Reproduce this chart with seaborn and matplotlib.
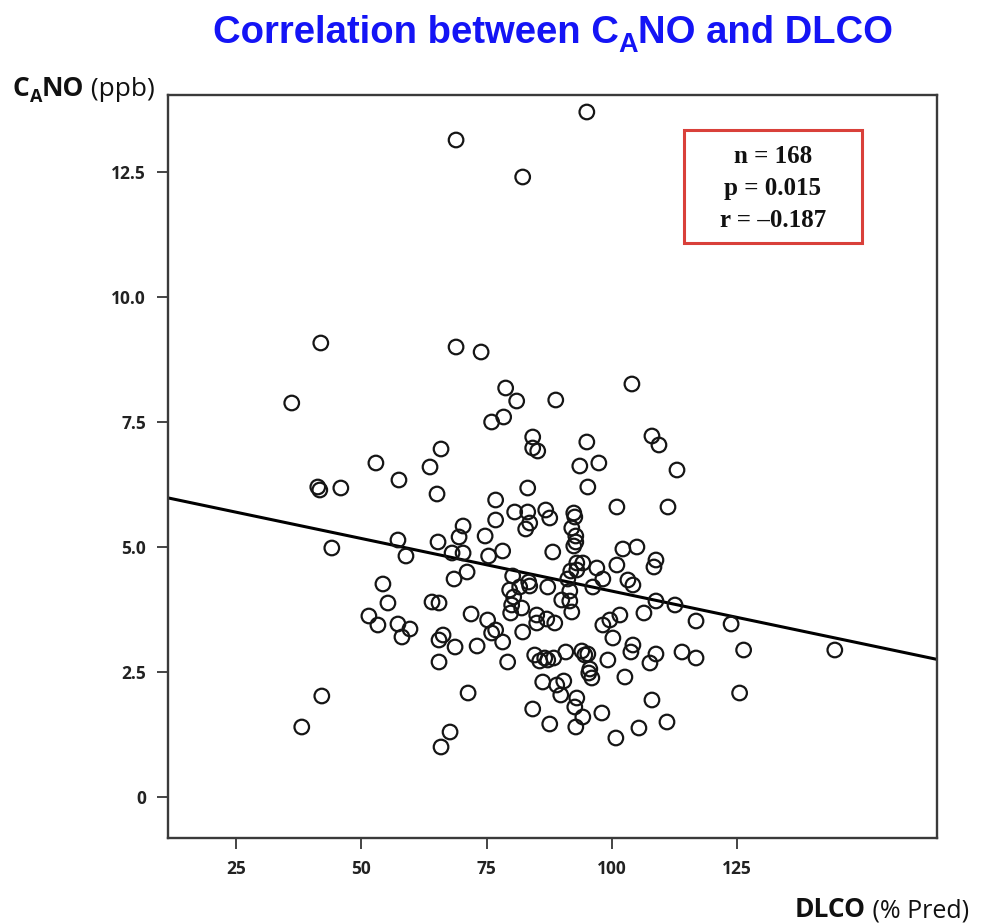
import numpy as np
import pandas as pd
import matplotlib
matplotlib.use("Agg")
import matplotlib.pyplot as plt
import seaborn as sns

# ---- data (DLCO % predicted, CANO ppb) ----
dlco = [95.0, 68.9, 82.2, 41.9, 68.9, 73.9, 36.1, 104.0, 78.8, 81.0,
        88.8, 78.4, 76.0, 84.2, 84.2, 85.2, 65.9, 63.7, 108.0, 109.4,
        95.0, 93.6, 97.4, 113.0, 52.9, 57.5, 41.3, 41.7, 45.9, 44.1,
        57.3, 58.9, 54.3, 55.3, 51.5, 53.3, 57.3, 59.7, 65.1, 83.2,
        76.8, 80.6, 83.2, 86.8, 87.6, 76.8, 83.6, 82.8, 70.3, 69.5,
        74.7, 65.3, 68.1, 70.3, 75.4, 78.2, 88.2, 71.1, 68.5, 80.2,
        81.6, 83.6, 79.6, 87.2, 64.1, 65.5, 80.0, 79.8, 82.0, 90.0,
        71.9, 75.2, 85.0, 85.0, 87.0, 88.6, 95.2, 101.0, 111.2, 92.4,
        92.6, 92.8, 92.8, 102.2, 105.0, 108.8, 108.4, 101.0, 97.0, 94.2,
        93.0, 93.0, 98.2, 103.2, 104.2, 96.2, 91.2, 91.6, 91.6, 92.0,
        108.8, 112.6, 106.4, 101.6, 99.6, 98.2, 116.8, 42.1, 38.1, 58.1,
        66.3, 65.5, 68.7, 73.1, 76.0, 78.2, 82.2, 65.5, 79.2, 84.6,
        85.6, 86.6, 88.4, 90.8, 71.3, 86.2, 89.0, 90.4, 89.8, 84.2,
        87.6, 67.7, 65.9, 100.2, 104.2, 103.8, 94.0, 94.6, 99.2, 108.8,
        107.6, 114.0, 116.8, 95.6, 95.4, 96.0, 102.6, 108.0, 93.0, 92.6,
        94.2, 92.8, 98.0, 105.4, 111.0, 100.8, 144.5, 126.3, 125.5, 123.8,
        80.4, 92.0, 92.4, 87.2, 95.2, 91.8, 83.4, 76.8]
cano = [13.70, 13.14, 12.40, 9.08, 9.00, 8.90, 7.88, 8.26, 8.18, 7.92,
        7.94, 7.60, 7.50, 7.20, 6.98, 6.92, 6.96, 6.60, 7.22, 7.04,
        7.10, 6.62, 6.68, 6.54, 6.68, 6.34, 6.20, 6.14, 6.18, 4.98,
        5.14, 4.82, 4.26, 3.88, 3.62, 3.44, 3.46, 3.36, 6.06, 6.18,
        5.94, 5.70, 5.70, 5.74, 5.58, 5.54, 5.48, 5.36, 5.42, 5.20,
        5.22, 5.10, 4.88, 4.88, 4.82, 4.92, 4.90, 4.50, 4.36, 4.42,
        4.20, 4.22, 4.14, 4.20, 3.90, 3.88, 3.84, 3.68, 3.78, 3.94,
        3.66, 3.54, 3.64, 3.48, 3.56, 3.48, 6.20, 5.80, 5.80, 5.68,
        5.60, 5.22, 5.10, 4.96, 5.00, 4.74, 4.60, 4.64, 4.58, 4.68,
        4.68, 4.54, 4.36, 4.34, 4.24, 4.20, 4.36, 4.12, 3.92, 3.70,
        3.92, 3.84, 3.68, 3.64, 3.54, 3.44, 3.52, 2.02, 1.40, 3.20,
        3.24, 3.14, 3.00, 3.02, 3.28, 3.10, 3.30, 2.70, 2.70, 2.84,
        2.72, 2.78, 2.78, 2.90, 2.08, 2.30, 2.24, 2.32, 2.04, 1.76,
        1.46, 1.30, 1.00, 3.18, 3.04, 2.90, 2.92, 2.84, 2.74, 2.86,
        2.68, 2.90, 2.78, 2.56, 2.48, 2.38, 2.40, 1.94, 1.98, 1.80,
        1.60, 1.40, 1.68, 1.38, 1.50, 1.18, 2.94, 2.94, 2.08, 3.46,
        4.00, 5.38, 5.02, 2.74, 2.86, 4.52, 4.30, 3.34]

x_ticks = [25, 50, 75, 100, 125]
y_ticks = [0, 2.5, 5.0, 7.5, 10.0, 12.5]
y_tick_labels = ["0", "2.5", "5.0", "7.5", "10.0", "12.5"]
stats_lines = ["n = 168", "p = 0.015", "r = \u20130.187"]

df = pd.DataFrame({"DLCO": dlco, "CANO": cano})

# ---- figure ----
W, H = 983, 923
sns.set_style("white")
plt.rcParams["font.family"] = ["Open Sans", "DejaVu Sans"]

fig = plt.figure(figsize=(W / 100, H / 100), dpi=100)
ax = fig.add_axes([168 / W, 1 - 838 / H, (937 - 168) / W, (838 - 95) / H])

XLIM = (11.4, 164.9)
YLIM = (-0.82, 14.04)
ax.set_xlim(*XLIM)
ax.set_ylim(*YLIM)

sns.scatterplot(data=df, x="DLCO", y="CANO", ax=ax, s=110, marker="o",
                facecolors="none", edgecolor="#151515", linewidth=1.6,
                legend=False, zorder=3)
sns.regplot(data=df, x="DLCO", y="CANO", ax=ax, scatter=False, ci=None,
            truncate=False, line_kws=dict(color="black", lw=2.2, zorder=2))

ax.set_xlim(*XLIM)
ax.set_ylim(*YLIM)
ax.set_xlabel("")
ax.set_ylabel("")
ax.set_xticks(x_ticks)
ax.set_xticklabels([str(v) for v in x_ticks])
ax.set_yticks(y_ticks)
ax.set_yticklabels(y_tick_labels)
ax.tick_params(axis="both", direction="out", length=8, width=1.4,
               color="#444444", labelsize=12.5, labelcolor="#222222", pad=8,
               bottom=True, left=True)
for lab in ax.get_xticklabels() + ax.get_yticklabels():
    lab.set_fontweight("bold")
for sp in ax.spines.values():
    sp.set_visible(True)
    sp.set_color("#3a3a3a")
    sp.set_linewidth(1.7)

# ---- stats box ----
rect = plt.Rectangle((684 / W, 1 - 243 / H), (862 - 684) / W, (243 - 130) / H,
                     transform=fig.transFigure, fill=False,
                     edgecolor="#d9403a", linewidth=2.2)
fig.patches.append(rect)
for i, line in enumerate(stats_lines):
    fig.text(773 / W, 1 - (163 + 32 * i) / H, line, ha="center",
             va="baseline", fontsize=18, fontweight="bold",
             family=["Liberation Serif", "DejaVu Serif"], color="#111111")

# ---- rich text helper (for subscripted labels) ----
renderer = fig.canvas.get_renderer()


def rich(x_px, y_px, pieces, ha="left"):
    widths = []
    for txt, kw, dy in pieces:
        t = fig.text(0, 0, txt, **kw)
        widths.append(t.get_window_extent(renderer).width)
        t.remove()
    total = sum(widths)
    x = x_px - total / 2 if ha == "center" else x_px
    for (txt, kw, dy), w in zip(pieces, widths):
        fig.text(x / W, 1 - (y_px + dy) / H, txt, va="baseline", ha="left", **kw)
        x += w


title_kw = dict(family=["Liberation Sans", "DejaVu Sans"], fontweight="bold",
                color="#1414f5")
rich(553, 43, [("Correlation between C", dict(fontsize=27.5, **title_kw), 0),
               ("A", dict(fontsize=19.5, **title_kw), 9),
               ("NO and DLCO", dict(fontsize=27.5, **title_kw), 0)],
     ha="center")

lab_b = dict(family=["Open Sans", "DejaVu Sans"], fontweight="bold", color="#111111")
lab_r = dict(family=["Open Sans", "DejaVu Sans"], fontweight="normal", color="#111111")
rich(13, 96, [("C", dict(fontsize=19, **lab_b), 0),
              ("A", dict(fontsize=13, **lab_b), 6),
              ("NO", dict(fontsize=19, **lab_b), 0),
              (" (ppb)", dict(fontsize=19, **lab_r), 0)])
rich(795, 917, [("DLCO", dict(fontsize=19, **lab_b), 0),
                (" (% Pred)", dict(fontsize=18, **lab_r), 0)])

fig.savefig("out.png", dpi=100)
